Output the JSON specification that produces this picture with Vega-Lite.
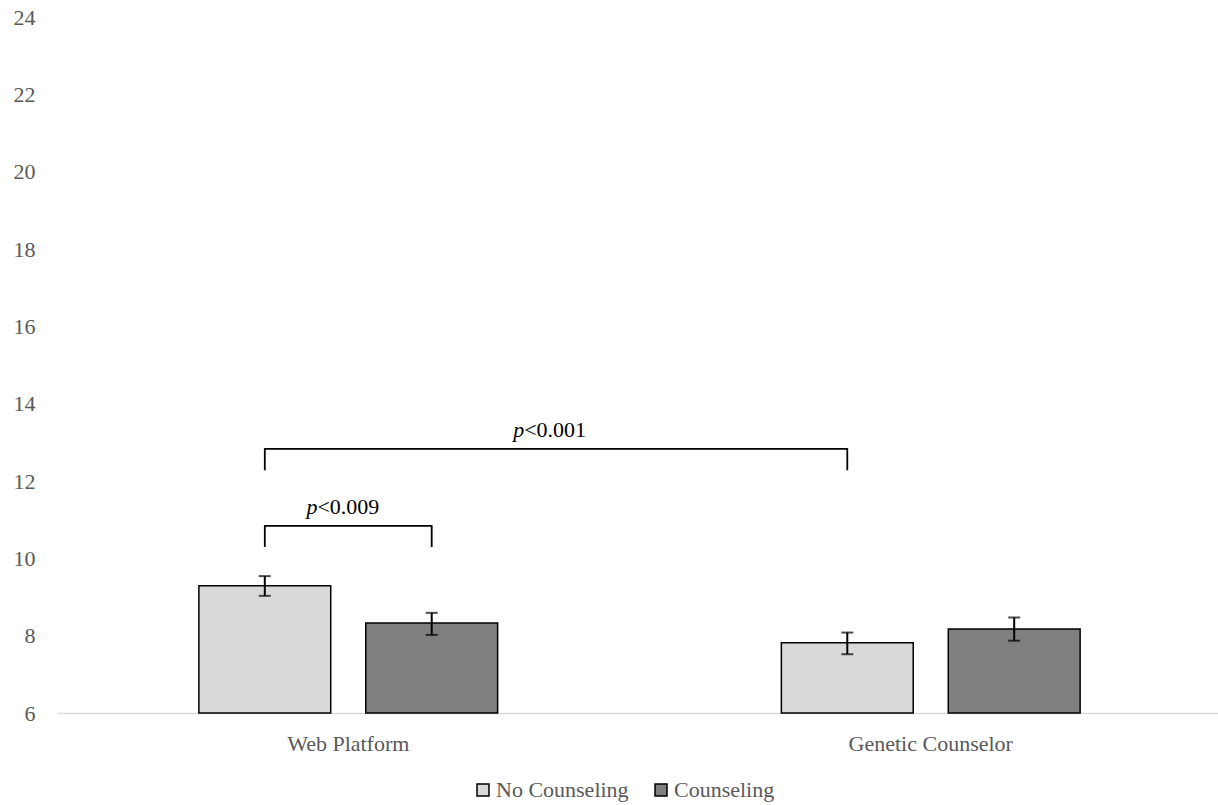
{
  "$schema": "https://vega.github.io/schema/vega-lite/v6.json",
  "width": 1161,
  "height": 696,
  "autosize": {"type": "none"},
  "padding": {"left": 57, "top": 17, "right": 0, "bottom": 92},
  "background": "white",
  "config": {
    "font": "Liberation Serif",
    "view": {"stroke": null},
    "axis": {"labelFont": "Liberation Serif", "labelColor": "#595959", "labelFontSize": 22, "title": null, "grid": false, "ticks": false},
    "legend": {"labelFont": "Liberation Serif", "labelColor": "#595959", "labelFontSize": 22}
  },
  "datasets": {
    "bars": [
      {"group": "Web Platform", "series": "No Counseling", "mean": 9.29, "lower": 9.03, "upper": 9.54},
      {"group": "Web Platform", "series": "Counseling", "mean": 8.33, "lower": 8.02, "upper": 8.59},
      {"group": "Genetic Counselor", "series": "No Counseling", "mean": 7.82, "lower": 7.52, "upper": 8.08},
      {"group": "Genetic Counselor", "series": "Counseling", "mean": 8.17, "lower": 7.87, "upper": 8.47}
    ],
    "brackets": [
      {"bracket": "a", "seq": 1, "group": "Web Platform", "series": "No Counseling", "y": 12.28},
      {"bracket": "a", "seq": 2, "group": "Web Platform", "series": "No Counseling", "y": 12.83},
      {"bracket": "a", "seq": 3, "group": "Genetic Counselor", "series": "No Counseling", "y": 12.83},
      {"bracket": "a", "seq": 4, "group": "Genetic Counselor", "series": "No Counseling", "y": 12.28},
      {"bracket": "b", "seq": 1, "group": "Web Platform", "series": "No Counseling", "y": 10.29},
      {"bracket": "b", "seq": 2, "group": "Web Platform", "series": "No Counseling", "y": 10.84},
      {"bracket": "b", "seq": 3, "group": "Web Platform", "series": "Counseling", "y": 10.84},
      {"bracket": "b", "seq": 4, "group": "Web Platform", "series": "Counseling", "y": 10.29}
    ]
  },
  "layer": [
    {
      "data": {"name": "bars"},
      "mark": {"type": "bar", "stroke": "black", "strokeWidth": 1.5},
      "encoding": {
        "x": {
          "field": "group", "type": "nominal", "sort": ["Web Platform", "Genetic Counselor"],
          "scale": {"paddingInner": 0, "paddingOuter": 0, "range": [0, 1165]},
          "axis": {"labelAngle": 0, "labelPadding": 20, "domainColor": "#d9d9d9", "domainWidth": 1.5}
        },
        "xOffset": {
          "field": "series", "type": "nominal", "sort": ["No Counseling", "Counseling"],
          "scale": {"paddingInner": 0.21, "paddingOuter": 0.85}
        },
        "y": {
          "field": "mean", "type": "quantitative",
          "scale": {"domain": [6, 24], "zero": false, "nice": false},
          "axis": {"values": [6, 8, 10, 12, 14, 16, 18, 20, 22, 24], "domain": false, "labelPadding": 22}
        },
        "y2": {"datum": 6},
        "fill": {
          "field": "series", "type": "nominal",
          "scale": {"domain": ["No Counseling", "Counseling"], "range": ["#d9d9d9", "#7f7f7f"]},
          "legend": {
            "title": null, "orient": "none", "direction": "horizontal",
            "legendX": 415, "legendY": 762, "padding": 0,
            "symbolType": "square", "symbolSize": 144, "symbolStrokeColor": "black", "symbolStrokeWidth": 1.5,
            "labelOffset": 2, "columnPadding": 21
          }
        }
      }
    },
    {
      "data": {"name": "bars"},
      "mark": {"type": "rule", "color": "black", "strokeWidth": 2},
      "encoding": {
        "x": {"field": "group", "type": "nominal", "sort": ["Web Platform", "Genetic Counselor"]},
        "xOffset": {"field": "series", "type": "nominal", "sort": ["No Counseling", "Counseling"]},
        "y": {"field": "lower", "type": "quantitative"},
        "y2": {"field": "upper"}
      }
    },
    {
      "data": {"name": "bars"},
      "mark": {"type": "tick", "color": "black", "orient": "horizontal", "size": 12, "thickness": 2},
      "encoding": {
        "x": {"field": "group", "type": "nominal", "sort": ["Web Platform", "Genetic Counselor"]},
        "xOffset": {"field": "series", "type": "nominal", "sort": ["No Counseling", "Counseling"]},
        "y": {"field": "lower", "type": "quantitative"}
      }
    },
    {
      "data": {"name": "bars"},
      "mark": {"type": "tick", "color": "black", "orient": "horizontal", "size": 12, "thickness": 2},
      "encoding": {
        "x": {"field": "group", "type": "nominal", "sort": ["Web Platform", "Genetic Counselor"]},
        "xOffset": {"field": "series", "type": "nominal", "sort": ["No Counseling", "Counseling"]},
        "y": {"field": "upper", "type": "quantitative"}
      }
    },
    {
      "data": {"name": "brackets"},
      "mark": {"type": "line", "color": "black", "strokeWidth": 1.8, "strokeJoin": "round"},
      "encoding": {
        "x": {"field": "group", "type": "nominal", "sort": ["Web Platform", "Genetic Counselor"]},
        "xOffset": {"field": "series", "type": "nominal", "sort": ["No Counseling", "Counseling"]},
        "y": {"field": "y", "type": "quantitative"},
        "order": {"field": "seq", "type": "quantitative"},
        "detail": {"field": "bracket", "type": "nominal"}
      }
    },
    {
      "data": {"values": [{"group": "Web Platform", "y": 13.14, "p": "p", "rest": "<0.001"}]},
      "layer": [
        {
          "mark": {"type": "text", "align": "right", "baseline": "alphabetic", "fontStyle": "italic", "fontSize": 22, "color": "black"},
          "encoding": {
            "x": {"field": "group", "type": "nominal", "sort": ["Web Platform", "Genetic Counselor"], "bandPosition": 0.802},
            "y": {"field": "y", "type": "quantitative"},
            "text": {"field": "p"}
          }
        },
        {
          "mark": {"type": "text", "align": "left", "baseline": "alphabetic", "fontSize": 22, "color": "black"},
          "encoding": {
            "x": {"field": "group", "type": "nominal", "sort": ["Web Platform", "Genetic Counselor"], "bandPosition": 0.802},
            "y": {"field": "y", "type": "quantitative"},
            "text": {"field": "rest"}
          }
        }
      ]
    },
    {
      "data": {"values": [{"group": "Web Platform", "y": 11.15, "p": "p", "rest": "<0.009"}]},
      "layer": [
        {
          "mark": {"type": "text", "align": "right", "baseline": "alphabetic", "fontStyle": "italic", "fontSize": 22, "color": "black"},
          "encoding": {
            "x": {"field": "group", "type": "nominal", "sort": ["Web Platform", "Genetic Counselor"], "bandPosition": 0.447},
            "y": {"field": "y", "type": "quantitative"},
            "text": {"field": "p"}
          }
        },
        {
          "mark": {"type": "text", "align": "left", "baseline": "alphabetic", "fontSize": 22, "color": "black"},
          "encoding": {
            "x": {"field": "group", "type": "nominal", "sort": ["Web Platform", "Genetic Counselor"], "bandPosition": 0.447},
            "y": {"field": "y", "type": "quantitative"},
            "text": {"field": "rest"}
          }
        }
      ]
    }
  ]
}
